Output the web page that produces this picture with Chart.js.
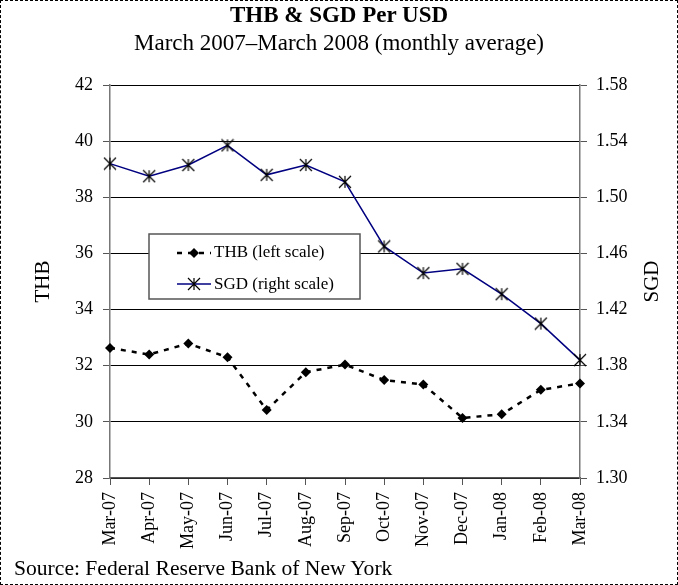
<!DOCTYPE html>
<html>
<head>
<meta charset="utf-8">
<script src="https://cdn.jsdelivr.net/npm/chart.js@4.4.0/dist/chart.umd.min.js"></script>
<style>
  html, body { margin: 0; padding: 0; background: #fff; }
  #wrap {
    position: relative; width: 678px; height: 585px; box-sizing: border-box;
    border: 1px dashed #000; overflow: hidden;
    font-family: 'Liberation Serif', 'Times New Roman', serif; color: #000;
  }
  #chart { position: absolute; left: -1px; top: -1px; }
  .title { position: absolute; left: 0; width: 100%; text-align: center; }
  #t1 { top: 1px; font-size: 23px; font-weight: bold; }
  #t2 { top: 29px; font-size: 23px; }
  #src { position: absolute; left: 13px; top: 555px; font-size: 21.6px; }
</style>
</head>
<body>
<div id="wrap">
  <canvas id="chart" width="678" height="585"></canvas>
  <div class="title" id="t1">THB &amp; SGD Per USD</div>
  <div class="title" id="t2">March 2007–March 2008 (monthly average)</div>
  <div id="src">Source: Federal Reserve Bank of New York</div>
</div>
<script>
// dados
const meses = ['Mar-07','Apr-07','May-07','Jun-07','Jul-07','Aug-07','Sep-07','Oct-07','Nov-07','Dec-07','Jan-08','Feb-08','Mar-08'];
const thb = [32.63, 32.40, 32.79, 32.30, 30.42, 31.77, 32.04, 31.49, 31.33, 30.14, 30.27, 31.14, 31.37];
const sgd = [1.524, 1.515, 1.523, 1.537, 1.516, 1.523, 1.511, 1.465, 1.446, 1.449, 1.431, 1.410, 1.384];
const thbTicks = [28, 42, 2];      // min, max, passo
const sgdTicks = [1.30, 1.58, 0.04];

const fonte = "'Liberation Serif', 'Times New Roman', serif";

// marcador estrela (X + traço vertical) igual ao do Excel
function criarEstrela(r, cor) {
    const c = document.createElement('canvas');
    c.width = c.height = r * 2 + 2;
    const g = c.getContext('2d');
    const m = r + 1;
    g.strokeStyle = cor; g.lineWidth = 1.2;
    g.beginPath();
    g.moveTo(m - r, m - r); g.lineTo(m + r, m + r);
    g.moveTo(m + r, m - r); g.lineTo(m - r, m + r);
    g.moveTo(m, m - r); g.lineTo(m, m + r);
    g.stroke();
    return c;
}
const estrela = criarEstrela(6, '#000');

// legenda desenhada dentro da área do gráfico + título do eixo direito (lido de baixo pra cima)
const legendaInterna = {
    id: 'legendaInterna',
    afterDraw(chart) {
        const ctx = chart.ctx;
        const x0 = 149, y0 = 234, w = 211, h = 65;
        ctx.save();
        ctx.fillStyle = '#fff';
        ctx.fillRect(x0, y0, w, h);
        ctx.strokeStyle = '#555'; ctx.lineWidth = 1.5;
        ctx.strokeRect(x0, y0, w, h);

        // THB
        let y = 253;
        ctx.strokeStyle = '#000'; ctx.lineWidth = 2.5; ctx.setLineDash([5, 6]);
        ctx.beginPath(); ctx.moveTo(177, y); ctx.lineTo(211, y); ctx.stroke();
        ctx.setLineDash([]);
        ctx.fillStyle = '#000';
        ctx.beginPath();
        ctx.moveTo(194, y - 5); ctx.lineTo(199, y); ctx.lineTo(194, y + 5); ctx.lineTo(189, y);
        ctx.closePath(); ctx.fill();

        // SGD
        y = 284;
        ctx.strokeStyle = '#000080'; ctx.lineWidth = 1.5;
        ctx.beginPath(); ctx.moveTo(177, y); ctx.lineTo(211, y); ctx.stroke();
        ctx.drawImage(estrela, 194 - 7, y - 7);

        ctx.fillStyle = '#000';
        ctx.font = '17px ' + fonte;
        ctx.textBaseline = 'middle';
        ctx.fillText('THB (left scale)', 214, 253);
        ctx.fillText('SGD (right scale)', 214, 285);

        // SGD no eixo direito
        const area = chart.chartArea;
        ctx.translate(652, (area.top + area.bottom) / 2);
        ctx.rotate(-Math.PI / 2);
        ctx.font = '21px ' + fonte;
        ctx.textAlign = 'center';
        ctx.fillText('SGD', 0, 0);
        ctx.restore();
    }
};

new Chart(document.getElementById('chart'), {
    type: 'line',
    data: {
        labels: meses,
        datasets: [
            {
                label: 'THB (left scale)', data: thb, yAxisID: 'y',
                borderColor: '#000', borderWidth: 2.5, borderDash: [5, 6],
                pointStyle: 'rectRot', pointRadius: 5, pointBackgroundColor: '#000',
                pointBorderColor: '#000', pointBorderWidth: 0, tension: 0
            },
            {
                label: 'SGD (right scale)', data: sgd, yAxisID: 'y1',
                borderColor: '#000080', borderWidth: 1.5,
                pointStyle: estrela, pointRadius: 7, tension: 0
            }
        ]
    },
    options: {
        responsive: false, animation: false,
        layout: { padding: { top: 85, left: 0, right: 0, bottom: 0 } },
        plugins: { legend: { display: false }, tooltip: { enabled: false } },
        scales: {
            x: {
                offset: false,
                grid: { drawOnChartArea: false, drawTicks: true, tickLength: 7, color: '#555' },
                border: { color: '#555', width: 1.5 },
                ticks: { maxRotation: 90, minRotation: 90, padding: 7, color: '#000', font: { family: fonte, size: 18 } },
                afterFit(s) { s.height = 107; }
            },
            y: {
                position: 'left', min: thbTicks[0], max: thbTicks[1],
                grid: { color: '#000', lineWidth: 1, drawTicks: true, tickLength: 7, tickColor: '#555' },
                border: { color: '#777', width: 1.5 },
                ticks: { stepSize: thbTicks[2], padding: 10, color: '#000', font: { family: fonte, size: 18 } },
                title: { display: true, text: 'THB', color: '#000', font: { family: fonte, size: 21 }, padding: { top: 31, bottom: 0 } },
                afterFit(s) { s.width = 110; }
            },
            y1: {
                position: 'right', min: sgdTicks[0], max: sgdTicks[1],
                grid: { drawOnChartArea: false, drawTicks: true, tickLength: 7, tickColor: '#555' },
                border: { color: '#777', width: 1.5 },
                ticks: { stepSize: sgdTicks[2], padding: 9, color: '#000', font: { family: fonte, size: 18 },
                    callback: v => v.toFixed(2) },
                afterFit(s) { s.width = 98; }
            }
        }
    },
    plugins: [legendaInterna]
});
</script>
</body>
</html>
